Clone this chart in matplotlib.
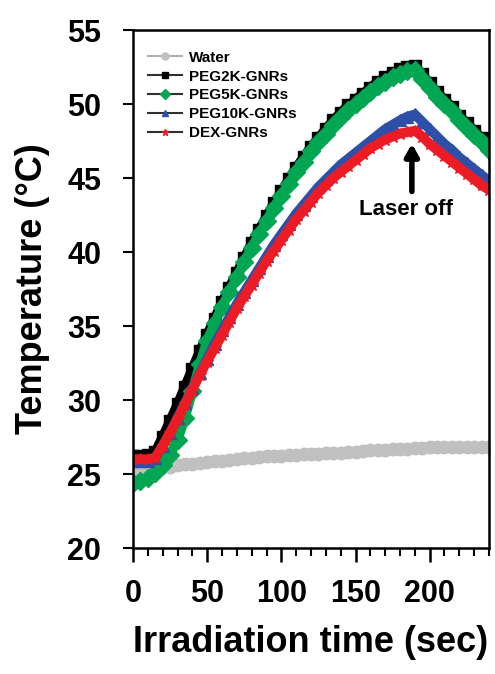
import matplotlib
matplotlib.use("Agg")
import matplotlib.pyplot as plt
from matplotlib.ticker import MultipleLocator
from matplotlib.lines import Line2D

plt.rcParams['font.family'] = ['Liberation Sans', 'DejaVu Sans']

time_s = list(range(0, 245, 5))

water = [25.1, 25.2, 25.3, 25.4, 25.45, 25.5, 25.6, 25.65, 25.7, 25.75,
         25.8, 25.85, 25.9, 25.95, 26.0, 26.05, 26.1, 26.15, 26.2, 26.22,
         26.25, 26.28, 26.3, 26.33, 26.35, 26.38, 26.4, 26.43, 26.45, 26.48,
         26.5, 26.55, 26.6, 26.62, 26.65, 26.68, 26.7, 26.72, 26.75, 26.77,
         26.8, 26.8, 26.8, 26.8, 26.8, 26.8, 26.8, 26.8, 26.8]

peg2k = [26.2, 26.2, 26.3, 26.5, 27.5, 28.6, 29.7, 30.9, 32.1, 33.3,
         34.4, 35.5, 36.6, 37.6, 38.6, 39.6, 40.6, 41.5, 42.4, 43.3,
         44.1, 44.9, 45.7, 46.4, 47.1, 47.7, 48.3, 48.9, 49.4, 49.9,
         50.3, 50.7, 51.1, 51.5, 51.8, 52.1, 52.35, 52.5, 52.6, 52.0,
         51.4, 50.8, 50.3, 49.8, 49.2, 48.7, 48.2, 47.7, 47.2]

peg5k = [24.4, 24.5, 24.7, 25.1, 25.6, 26.3, 27.3, 28.8, 30.6, 32.4,
         34.0, 35.2, 36.3, 37.3, 38.3, 39.3, 40.3, 41.2, 42.1, 43.0,
         43.8, 44.6, 45.4, 46.1, 46.8, 47.4, 48.0, 48.6, 49.1, 49.6,
         50.0, 50.4, 50.8, 51.2, 51.5, 51.8, 52.05, 52.2, 52.3, 51.7,
         51.1, 50.5, 50.0, 49.5, 48.9, 48.4, 47.9, 47.4, 46.9]

peg10k = [25.9, 25.9, 25.9, 26.1, 26.9, 27.8, 28.8, 29.8, 30.8, 31.8,
          32.8, 33.8, 34.7, 35.6, 36.5, 37.3, 38.1, 38.9, 39.7, 40.5,
          41.2, 41.9, 42.6, 43.2, 43.8, 44.4, 44.9, 45.4, 45.9, 46.3,
          46.7, 47.1, 47.5, 47.9, 48.3, 48.6, 48.9, 49.15, 49.3, 48.8,
          48.3, 47.8, 47.3, 46.9, 46.4, 46.0, 45.6, 45.2, 44.8]

dex = [26.0, 26.0, 26.0, 26.1, 26.9, 27.8, 28.7, 29.7, 30.7, 31.7,
       32.6, 33.5, 34.4, 35.3, 36.2, 37.0, 37.8, 38.6, 39.4, 40.1,
       40.8, 41.5, 42.2, 42.8, 43.4, 44.0, 44.5, 45.0, 45.4, 45.8,
       46.2, 46.6, 47.0, 47.3, 47.6, 47.8, 48.0, 48.1, 48.2, 47.8,
       47.3, 46.9, 46.5, 46.1, 45.7, 45.3, 44.9, 44.5, 44.2]

series_labels = ["Water", "PEG2K-GNRs", "PEG5K-GNRs", "PEG10K-GNRs", "DEX-GNRs"]
x_ticks = [0, 50, 100, 150, 200]
y_ticks = [20, 25, 30, 35, 40, 45, 50, 55]
laser_off_time = 188

fig = plt.figure(figsize=(4.95, 6.74), dpi=100)
ax = fig.add_axes([133/495, 1-548/674, (489-133)/495, (548-30)/674])

styles = [
    dict(color="#c0c0c0", marker="o", hline="#b0b0b0"),
    dict(color="#000000", marker="s", hline="#303030"),
    dict(color="#00a651", marker="D", hline="#303030"),
    dict(color="#2e4fa8", marker="^", hline="#303030"),
    dict(color="#ed1c24", marker="*", hline="#303030"),
]
data = [water, peg2k, peg5k, peg10k, dex]
for vals, lab, st in zip(data, series_labels, styles):
    ax.plot(time_s, vals, color=st["color"], lw=7, marker=st["marker"],
            ms=9, mec=st["color"], mfc=st["color"], label=lab,
            solid_capstyle="round")

ax.set_xlim(0, 240)
ax.set_ylim(20, 55)
ax.set_xticks(x_ticks)
ax.xaxis.set_minor_locator(MultipleLocator(10))
ax.set_yticks(y_ticks)
for sp in ax.spines.values():
    sp.set_linewidth(1.8)
ax.tick_params(axis="x", which="major", direction="out", length=10, width=1.8, pad=12)
ax.tick_params(axis="x", which="minor", direction="out", length=6, width=1.5)
ax.tick_params(axis="y", which="major", direction="out", length=7, width=1.5, pad=16)
for lbl in ax.get_xticklabels() + ax.get_yticklabels():
    lbl.set_fontsize(22)
    lbl.set_fontweight("bold")

ax.set_xlabel("Irradiation time (sec)", fontsize=26, fontweight="bold", labelpad=12)
ax.set_ylabel("Temperature (°C)", fontsize=26, fontweight="bold", labelpad=12)

handles = [Line2D([0], [0], color=st["hline"], lw=1.5, marker=st["marker"],
                  ms=5, mfc=st["color"], mec=st["color"])
           for st in styles]
ax.legend(handles, series_labels, loc="upper left", frameon=False,
          prop=dict(size=11, weight="bold"), handlelength=2.2,
          handletextpad=0.5, labelspacing=0.32,
          bbox_to_anchor=(0.025, 0.972), borderaxespad=0.0)

ax.annotate("", xy=(laser_off_time, 47.5), xytext=(laser_off_time, 43.9),
            arrowprops=dict(arrowstyle="-|>,head_width=0.4,head_length=0.7",
                            color="black", lw=4))
ax.text(laser_off_time - 4, 43.6, "Laser off", ha="center", va="top",
        fontsize=16, fontweight="bold")

fig.savefig("out.png", dpi=100)
